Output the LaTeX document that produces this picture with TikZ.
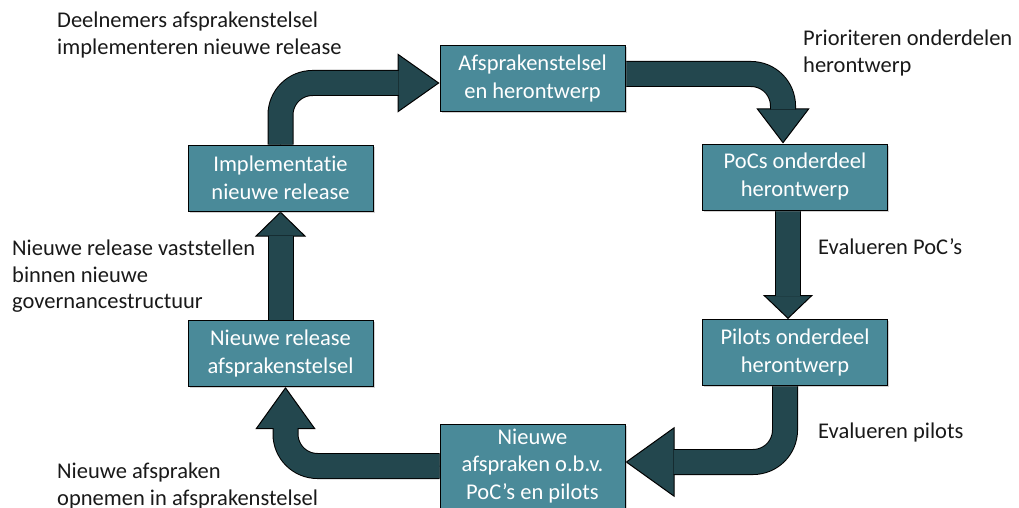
\documentclass[tikz,border=0pt]{standalone}
\usepackage{fontspec}
\setmainfont{Carlito}[Ligatures=NoCommon]
\usetikzlibrary{arrows.meta,backgrounds,shadows}
\definecolor{Dteal}{HTML}{4A8A99}
\definecolor{Ddark}{HTML}{23474E}
\tikzset{%
    Dbox/.style={draw=black, line width=1pt, fill=Dteal, text=white, align=center,
        minimum width=185pt, minimum height=66pt, inner sep=0pt,
        font=\fontsize{22.5}{28}\selectfont,
        drop shadow={shadow xshift=1.5pt, shadow yshift=-1.5pt, opacity=0.35}},
    Dlabel/.style={anchor=north west, align=left, inner sep=0pt, text=black!90,
        font=\fontsize{22.5}{26.5}\selectfont},
    Dshaft/.style={draw=black, line width=1pt, double=Ddark, double distance=24pt,
        rounded corners=32pt, shorten >=#1},
    Dhead/.style 2 args={draw=black, line width=1pt, rounded corners=32pt,
        -{Triangle[width=#1, length=#2, fill=Ddark]}}
}
% head width, head length, shaft shortening, path
\newcommand\Dflow[4]{%
    \draw[Dhead={#1}{#2}] #4;
    \draw[Dshaft=#3] #4;}

\begin{document}
\begin{tikzpicture}[x=1pt, y=-1pt]
    \useasboundingbox (0,0) rectangle (1019,508);
    % steps of the cycle
    \node[Dbox] (afs) at (532.5,79) {Afsprakenstelsel\\en herontwerp};
    \node[Dbox] (impl) at (280.5,178) {Implementatie\\nieuwe release};
    \node[Dbox] (pocs) at (795,177) {PoCs onderdeel\\herontwerp};
    \node[Dbox] (pilots) at (795,352.5) {Pilots onderdeel\\herontwerp};
    \node[Dbox] (release) at (280.5,353.5) {Nieuwe release\\afsprakenstelsel};
    \node[Dbox, minimum height=84pt, font=\fontsize{22.5}{27.5}\selectfont] (nieuw) at (532.5,466)
        {Nieuwe\\afspraken o.b.v.\\PoC’s en pilots};
    % texts beside the arrows
    \node[Dlabel] (Limpl) at (57,12) {Deelnemers afsprakenstelsel\\implementeren nieuwe release};
    \node[Dlabel] (Lprio) at (803,30) {Prioriteren onderdelen\\herontwerp};
    \node[Dlabel] (Lpocs) at (818,238) {Evalueren PoC’s};
    \node[Dlabel] (Lrelease) at (12,240) {Nieuwe release vaststellen\\binnen nieuwe\\governancestructuur};
    \node[Dlabel] (Lpilots) at (818,423) {Evalueren pilots};
    \node[Dlabel] (Lnieuw) at (57,463) {Nieuwe afspraken\\opnemen in afsprakenstelsel};
    % arrows
    \begin{scope}[on background layer]
        \Dflow{59pt}{42pt}{41pt}{(impl.north) |- ([yshift=-4pt]afs.west)}
        \Dflow{53pt}{35pt}{34pt}{([yshift=5pt]afs.east) -| ([xshift=-12pt]pocs.north)}
        \Dflow{50pt}{24pt}{23pt}{([xshift=-7pt]pocs.south) -- ([xshift=-7pt]pilots.north)}
        \Dflow{70pt}{49pt}{48pt}{([xshift=-10pt]pilots.south) |- ([yshift=4pt]nieuw.east)}
        \Dflow{60pt}{42pt}{41pt}{(nieuw.west) -| ([xshift=5pt]release.south)}
        \Dflow{51pt}{25pt}{24pt}{(release.north) -- (impl.south)}
    \end{scope}
\end{tikzpicture}
\end{document}
